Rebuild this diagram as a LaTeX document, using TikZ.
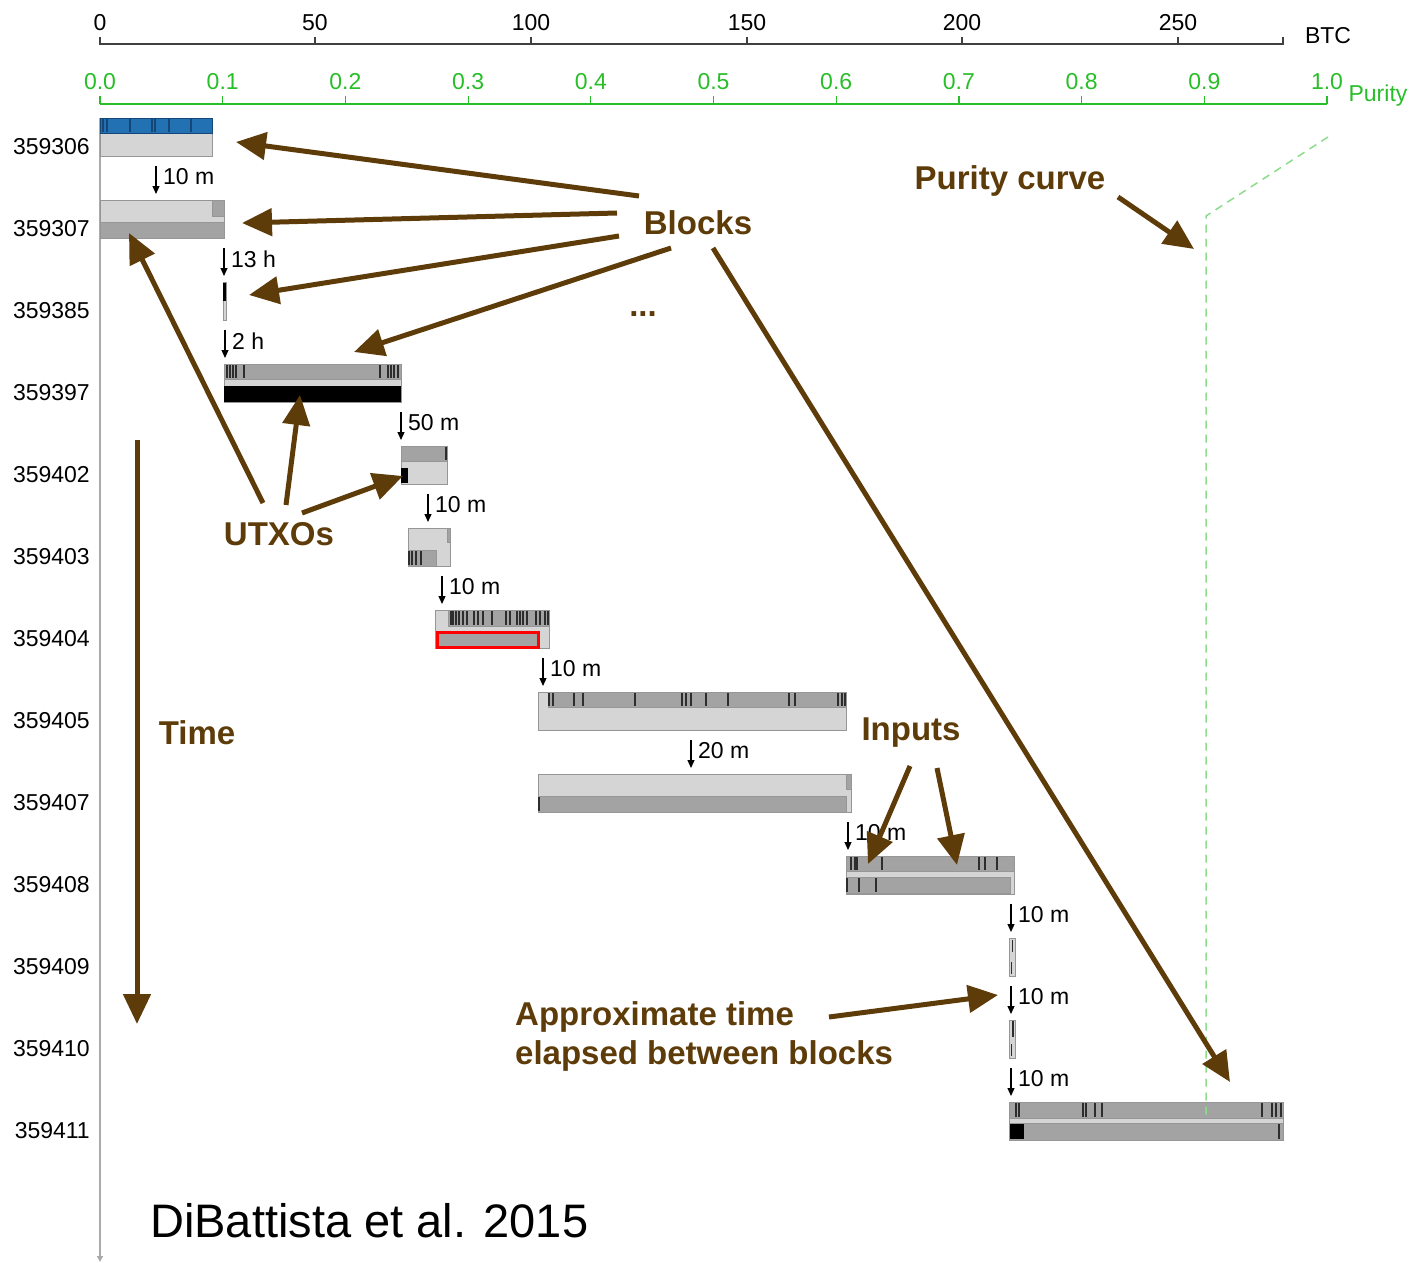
\documentclass[tikz,border=0pt]{standalone}
\usepackage{fontspec}
\setmainfont{Liberation Sans}
\usetikzlibrary{arrows.meta}
\definecolor{brn}{RGB}{94,60,10}
\definecolor{lgr}{RGB}{213,213,213}
\definecolor{mgr}{RGB}{163,163,163}
\definecolor{bgr}{RGB}{150,150,150}
\definecolor{dk}{RGB}{45,45,45}
\definecolor{axg}{RGB}{40,190,40}
\definecolor{dashg}{RGB}{140,220,140}
\definecolor{blu}{RGB}{34,113,179}
\definecolor{dblu}{RGB}{20,70,120}
\definecolor{axisgray}{RGB}{170,170,170}
\newcommand\dlines[3]{\foreach \xx in {#1} {\draw[dl] (\xx,#2) -- (\xx,#3);}}
\begin{document}
\begin{tikzpicture}[x=1pt,y=-1pt,
 small/.style={font=\fontsize{23}{26}\selectfont, inner sep=0},
 ann/.style={font=\fontsize{33}{39}\selectfont\bfseries, text=brn, inner sep=0},
 barrow/.style={draw=brn, line width=5pt, -{Triangle[length=30pt,width=27pt]}},
 garrow/.style={line width=1.2pt, -{Triangle[length=8pt,width=7pt]}},
 lgb/.style={fill=lgr, draw=bgr, line width=0.8pt},
 mgb/.style={fill=mgr, draw=bgr, line width=0.8pt},
 dl/.style={draw=dk, line width=1.5pt},
]
\useasboundingbox[fill=white] (0,0) rectangle (1409,1263);

% BTC axis
\draw[line width=1.2pt, black!75] (100,37) -- (100,44) -- (1283,44) -- (1283,37);
\foreach \xx/\lab [count=\i] in {100/0,315/50,531/100,747/150,962/200,1178/250} {
  \draw[line width=1.2pt, black!75] (\xx,37) -- (\xx,44);
  \node[small] (btc\i) at (\xx,23) {\lab};
}
\node[small] (btc) at (1328,36) {BTC};

% Purity axis
\draw[line width=1.2pt, axg] (100,104) -- (1327,104);
\foreach \v/\lab [count=\i] in {0/0.0,1/0.1,2/0.2,3/0.3,4/0.4,5/0.5,6/0.6,7/0.7,8/0.8,9/0.9,10/1.0} {
  \draw[line width=1.2pt, axg] ({100+122.7*\v},96) -- ({100+122.7*\v},104);
  \node[small, text=axg] (pur\i) at ({100+122.7*\v},82) {\lab};
}
\node[small, text=axg] (purlab) at (1378,96) {Purity};

% time axis
\draw[axisgray, line width=2pt, -{Triangle[length=6pt,width=6pt]}] (100,118) -- (100,1262);

% row labels
\foreach \lab [count=\i from 0] in {359306,359307,359385,359397,359402,359403,359404,359405,359407,359408,359409,359410,359411} {
  \node[small, anchor=east] (row\i) at (90,{147+82*\i}) {\lab};
}

% Block 359306
\path[lgb] (100,133) rectangle (212,156);
\path[fill=blu, draw=dblu, line width=0.8pt] (100,118) rectangle (212,133);
\foreach \xx in {103,107,130,152,155,169,191} {\draw[dblu, line width=1.3pt] (\xx,119) -- (\xx,132);}

% Block 359307
\path[lgb] (100,200) rectangle (224,222);
\path[mgb] (212,200) rectangle (224,216);
\path[mgb] (100,222) rectangle (224,238);

% Block 359385
\path[lgb] (223,282) rectangle (226,320);
\draw[black, line width=2.2pt] (224.5,283) -- (224.5,301);

% Block 359397
\path[lgb] (224,364) rectangle (401,402);
\path[mgb] (224,364) rectangle (401,379);
\fill[black] (224,386) rectangle (401,402);
\dlines{227,230,233,236,244,380,388,391,394,398}{365}{378}

% Block 359402
\path[lgb] (401,446) rectangle (447,484);
\path[mgb] (401,446) rectangle (447,461);
\draw[dl] (446,447) -- (446,460);
\fill[black] (401,468) rectangle (408,483);

% Block 359403
\path[lgb] (408,528) rectangle (450,566);
\path[mgb] (447,528) rectangle (450,542);
\path[mgb] (408,550) rectangle (436,566);
\dlines{409,412,416,421}{551}{565}

% Block 359404
\path[lgb] (435,610) rectangle (549,648);
\path[mgb] (448,610) rectangle (549,626);
\dlines{451,453,456,459,463,467,474,478,483,492,506,510,517,520,523,527,536,540,545,548}{611}{625}
\path[fill=mgr, draw=red, line width=3pt] (437,632) rectangle (538,647);

% Block 359405
\path[lgb] (538,692) rectangle (846,730);
\path[mgb] (548,692) rectangle (846,707);
\dlines{549,553,574,583,635,682,686,691,706,728,789,795,838,842,845}{693}{706}

% Block 359407
\path[lgb] (538,774) rectangle (851,812);
\path[mgb] (846,774) rectangle (851,789);
\path[mgb] (538,796) rectangle (846,812);
\draw[dl] (539,797) -- (539,811);

% Block 359408
\path[lgb] (846,856) rectangle (1014,894);
\path[mgb] (846,856) rectangle (1014,871);
\path[mgb] (846,877) rectangle (1010,893);
\dlines{851,855,857,882,979,985,997}{857}{870}
\dlines{847,859,876}{878}{892}

% Block 359409
\path[lgb] (1009,938) rectangle (1015,976);
\draw[dk, line width=1pt] (1012,940) -- (1012,952);
\draw[dk, line width=1pt] (1011,962) -- (1011,974);

% Block 359410
\path[lgb] (1009,1020) rectangle (1015,1058);
\draw[dl] (1013,1021) -- (1013,1037);
\draw[dk, line width=1pt] (1011,1044) -- (1011,1056);

% Block 359411
\path[lgb] (1009,1102) rectangle (1283,1140);
\path[mgb] (1009,1102) rectangle (1283,1118);
\path[mgb] (1009,1123) rectangle (1283,1140);
\fill[black] (1010,1124) rectangle (1024,1139);
\dlines{1016,1019,1083,1086,1095,1102,1262,1272,1276,1281}{1103}{1117}
\dlines{1279}{1124}{1139}

% purity curve
\draw[dashg, line width=1.5pt, dash pattern=on 8pt off 6pt] (1328,137) -- (1206,216) -- (1206,1120);

% time gaps
\foreach \xx/\rr/\lab [count=\i] in {156/0/10 m,224/1/13 h,225/2/2 h,401/3/50 m,428/4/10 m,442/5/10 m,543/6/10 m,691/7/20 m,848/8/10 m,1011/9/10 m,1011/10/10 m,1011/11/10 m} {
  \coordinate (ga\i) at (\xx,{166+82*\rr});
  \coordinate (gb\i) at (\xx,{194+82*\rr});
  \draw[garrow] (ga\i) -- (gb\i);
  \node[small, anchor=west] (gl\i) at ({\xx+7},{177+82*\rr}) {\lab};
}

% annotation labels
\node[ann] (blocks) at (698,223) {Blocks};
\node[ann] (purity) at (1010,181) {Purity curve};
\node[ann] (utxos) at (279,534) {UTXOs};
\node[ann] (time) at (197,733) {Time};
\node[ann] (inputs) at (911,733) {Inputs};
\node[ann, anchor=west, align=left] (approx) at (515,1036) {Approximate time\\elapsed between blocks};
\node[ann] (dots) at (643,314) {...};
\node[font=\fontsize{47}{50}\selectfont, anchor=west, inner sep=0] (cite) at (150,1221) {DiBattista et al. 2015};

% annotation arrow ends
\coordinate (bs1) at (639,196); \coordinate (bt1) at (236,142);
\coordinate (bs2) at (617,213); \coordinate (bt2) at (242,223);
\coordinate (bs3) at (619,236); \coordinate (bt3) at (249,295);
\coordinate (bs4) at (671,248); \coordinate (bt4) at (354,352);
\coordinate (bs5) at (713,248); \coordinate (bt5) at (1230,1082);
\coordinate (ps) at (1118,197); \coordinate (pt) at (1194,249);
\coordinate (us1) at (263,503); \coordinate (ut1) at (129,233);
\coordinate (us2) at (286,505); \coordinate (ut2) at (300,395);
\coordinate (us3) at (302,513); \coordinate (ut3) at (403,476);
\coordinate (is1) at (910,766); \coordinate (it1) at (868,864);
\coordinate (is2) at (937,768); \coordinate (it2) at (957,865);
\coordinate (as) at (829,1017); \coordinate (at) at (998,995);
\coordinate (ts) at (137,440); \coordinate (tt) at (137,1024);

\foreach \s/\t in {bs1/bt1,bs2/bt2,bs3/bt3,bs4/bt4,bs5/bt5,ps/pt,us1/ut1,us2/ut2,us3/ut3,is1/it1,is2/it2,as/at,ts/tt} {
  \draw[barrow] (\s) -- (\t);
}
\end{tikzpicture}
\end{document}
